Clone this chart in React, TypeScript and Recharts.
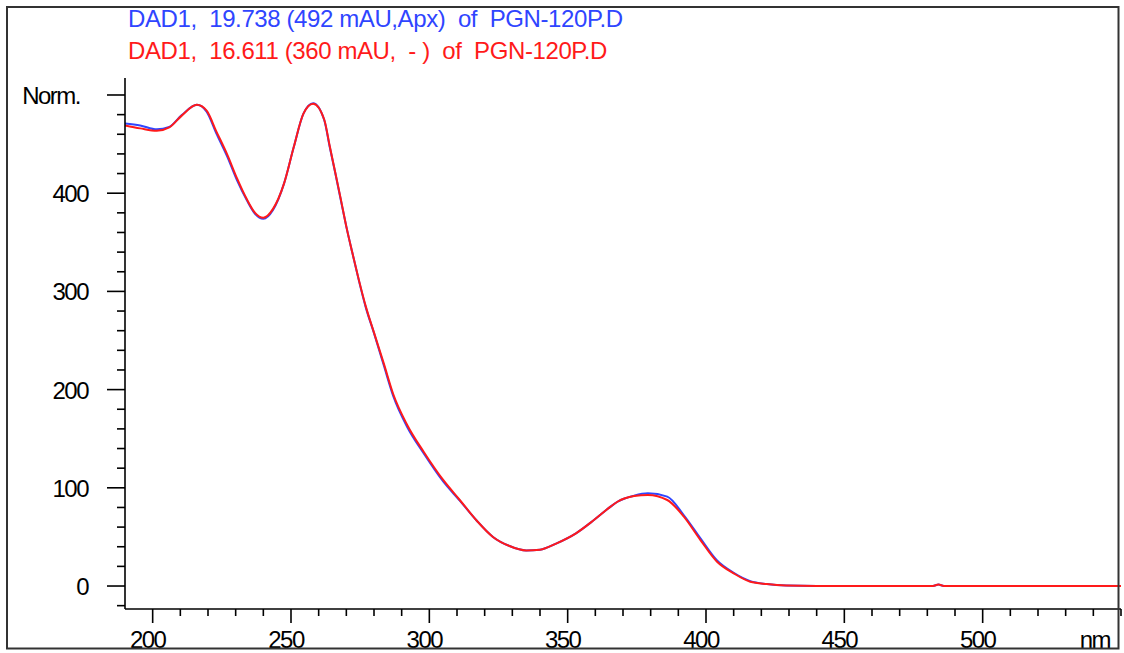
import { LineChart, Line, XAxis, YAxis } from "recharts";

// wavelength (nm) and normalised absorbance of the two spectra
const wavelengths = [
  190, 195.5, 201.5, 206, 210.5, 216, 219.5, 223, 227, 230.5, 234, 237, 240,
  243.5, 247.5, 251, 254.5, 258, 262, 264, 266, 268, 270, 272.2, 274.5, 277,
  280, 283.5, 287, 292, 298, 305, 311, 317, 323, 329, 335, 340, 346, 353,
  359.5, 365.5, 368, 374, 379, 386, 392, 398, 404, 410, 416, 422, 429, 440,
  460, 482, 484, 486, 500, 520, 550,
];

const blueValues = [
  471, 469, 465, 467.5, 479.5, 490, 483, 461, 437, 413, 393, 379, 374, 383,
  410, 447, 481, 491.5, 474.5, 447, 420.5, 393, 366, 339, 311.5, 284, 257.5,
  225, 193, 162, 135, 106.5, 87, 67, 50, 40.7, 36.2, 37, 43.5, 53.7, 67.2,
  80.8, 85.8, 92, 94.4, 91, 72, 48.5, 26, 13.5, 5, 2, 0.5, 0, 0, 0, 1.5, 0, 0,
  0, 0,
];

const redValues = [
  469, 466, 463.5, 467, 479, 490, 484, 463, 439, 415, 394, 380, 375, 384, 410,
  447, 481, 491, 475, 448, 421, 394, 366, 339, 312, 285, 258, 227, 195, 164,
  136.5, 108, 87.6, 67, 50, 40.7, 36.2, 37, 43.5, 53.7, 67.2, 80.8, 85.8,
  91.6, 92.7, 87.6, 70.6, 46.8, 24.7, 12.9, 4.4, 2, 0.5, 0, 0, 0, 1.5, 0, 0, 0,
  0,
];

const xTicks = [
  200, 210, 220, 230, 240, 250, 260, 270, 280, 290, 300, 310, 320, 330, 340,
  350, 360, 370, 380, 390, 400, 410, 420, 430, 440, 450, 460, 470, 480, 490,
  500, 510, 520, 530, 540, 550,
];

const yTicks = [
  -20, 0, 20, 40, 60, 80, 100, 120, 140, 160, 180, 200, 220, 240, 260, 280,
  300, 320, 340, 360, 380, 400, 420, 440, 460, 480, 500,
];

const titleBlue = "DAD1,  19.738 (492 mAU,Apx)  of  PGN-120P.D";
const titleRed = "DAD1,  16.611 (360 mAU,  - )  of  PGN-120P.D";

const data = wavelengths.map((nm, i) => ({
  nm,
  blue: blueValues[i],
  red: redValues[i],
}));

const FONT = "'Liberation Sans', Arial, sans-serif";

function YTick(props: any) {
  const { x, y, payload } = props;
  const v = payload.value;
  const major = v >= 0 && v % 100 === 0;
  return (
    <g>
      <line
        x1={x - (major ? 18 : 8)}
        x2={x}
        y1={y}
        y2={y}
        stroke="#000"
        strokeWidth={1.6}
      />
      {major && (
        <text
          x={v === 500 ? x - 45 : x - 37}
          y={y + 9}
          textAnchor="end"
          fontFamily={FONT}
          fontSize={24}
          letterSpacing={-1.5}
          fill="#000"
        >
          {v === 500 ? "Norm." : v}
        </text>
      )}
    </g>
  );
}

function XTick(props: any) {
  const { x, y, payload } = props;
  const v = payload.value;
  const major = v % 50 === 0 && v < 550;
  return (
    <g>
      <line
        x1={x}
        x2={x}
        y1={y}
        y2={y + (major ? 14 : 7)}
        stroke="#000"
        strokeWidth={1.6}
      />
      {major && (
        <text
          x={x - 5}
          y={y + 39}
          textAnchor="middle"
          fontFamily={FONT}
          fontSize={24}
          letterSpacing={-1.5}
          fill="#000"
        >
          {v}
        </text>
      )}
      {v === 550 && (
        <text
          x={x - 11}
          y={y + 39}
          textAnchor="end"
          fontFamily={FONT}
          fontSize={24}
          letterSpacing={-1.5}
          fill="#000"
        >
          nm
        </text>
      )}
    </g>
  );
}

export default function App() {
  return (
    <div
      style={{
        position: "absolute",
        left: 0,
        top: 0,
        width: 1124,
        height: 653,
        background: "#fff",
      }}
    >
      <LineChart
        width={1124}
        height={653}
        data={data}
        margin={{ top: 78, right: 3, left: 0, bottom: 0 }}
      >
        <XAxis
          dataKey="nm"
          type="number"
          domain={[190, 550]}
          ticks={xTicks}
          interval={0}
          height={44}
          tickSize={0}
          tickMargin={0}
          tick={<XTick />}
          axisLine={{ stroke: "#000", strokeWidth: 1.6 }}
        />
        <YAxis
          type="number"
          domain={[-23.4, 517.3]}
          ticks={yTicks}
          interval={0}
          width={125}
          tickSize={0}
          tickMargin={0}
          tick={<YTick />}
          axisLine={{ stroke: "#000", strokeWidth: 1.6 }}
        />
        <Line
          dataKey="blue"
          type="monotone"
          stroke="#2f45ff"
          strokeWidth={2}
          dot={false}
          isAnimationActive={false}
        />
        <Line
          dataKey="red"
          type="monotone"
          stroke="#ff1a1a"
          strokeWidth={2}
          dot={false}
          isAnimationActive={false}
        />
      </LineChart>
      <svg
        width={1124}
        height={653}
        style={{ position: "absolute", left: 0, top: 0, pointerEvents: "none" }}
      >
        <rect
          x={7}
          y={7}
          width={1111.5}
          height={641.5}
          fill="none"
          stroke="#333"
          strokeWidth={2}
        />
        <text
          x={128}
          y={27}
          fontFamily={FONT}
          fontSize={24}
          letterSpacing={-0.4}
          fill="#2f45ff"
          style={{ whiteSpace: "pre" }}
        >
          {titleBlue}
        </text>
        <text
          x={128}
          y={59}
          fontFamily={FONT}
          fontSize={24}
          letterSpacing={-0.4}
          fill="#ff1a1a"
          style={{ whiteSpace: "pre" }}
        >
          {titleRed}
        </text>
      </svg>
    </div>
  );
}
